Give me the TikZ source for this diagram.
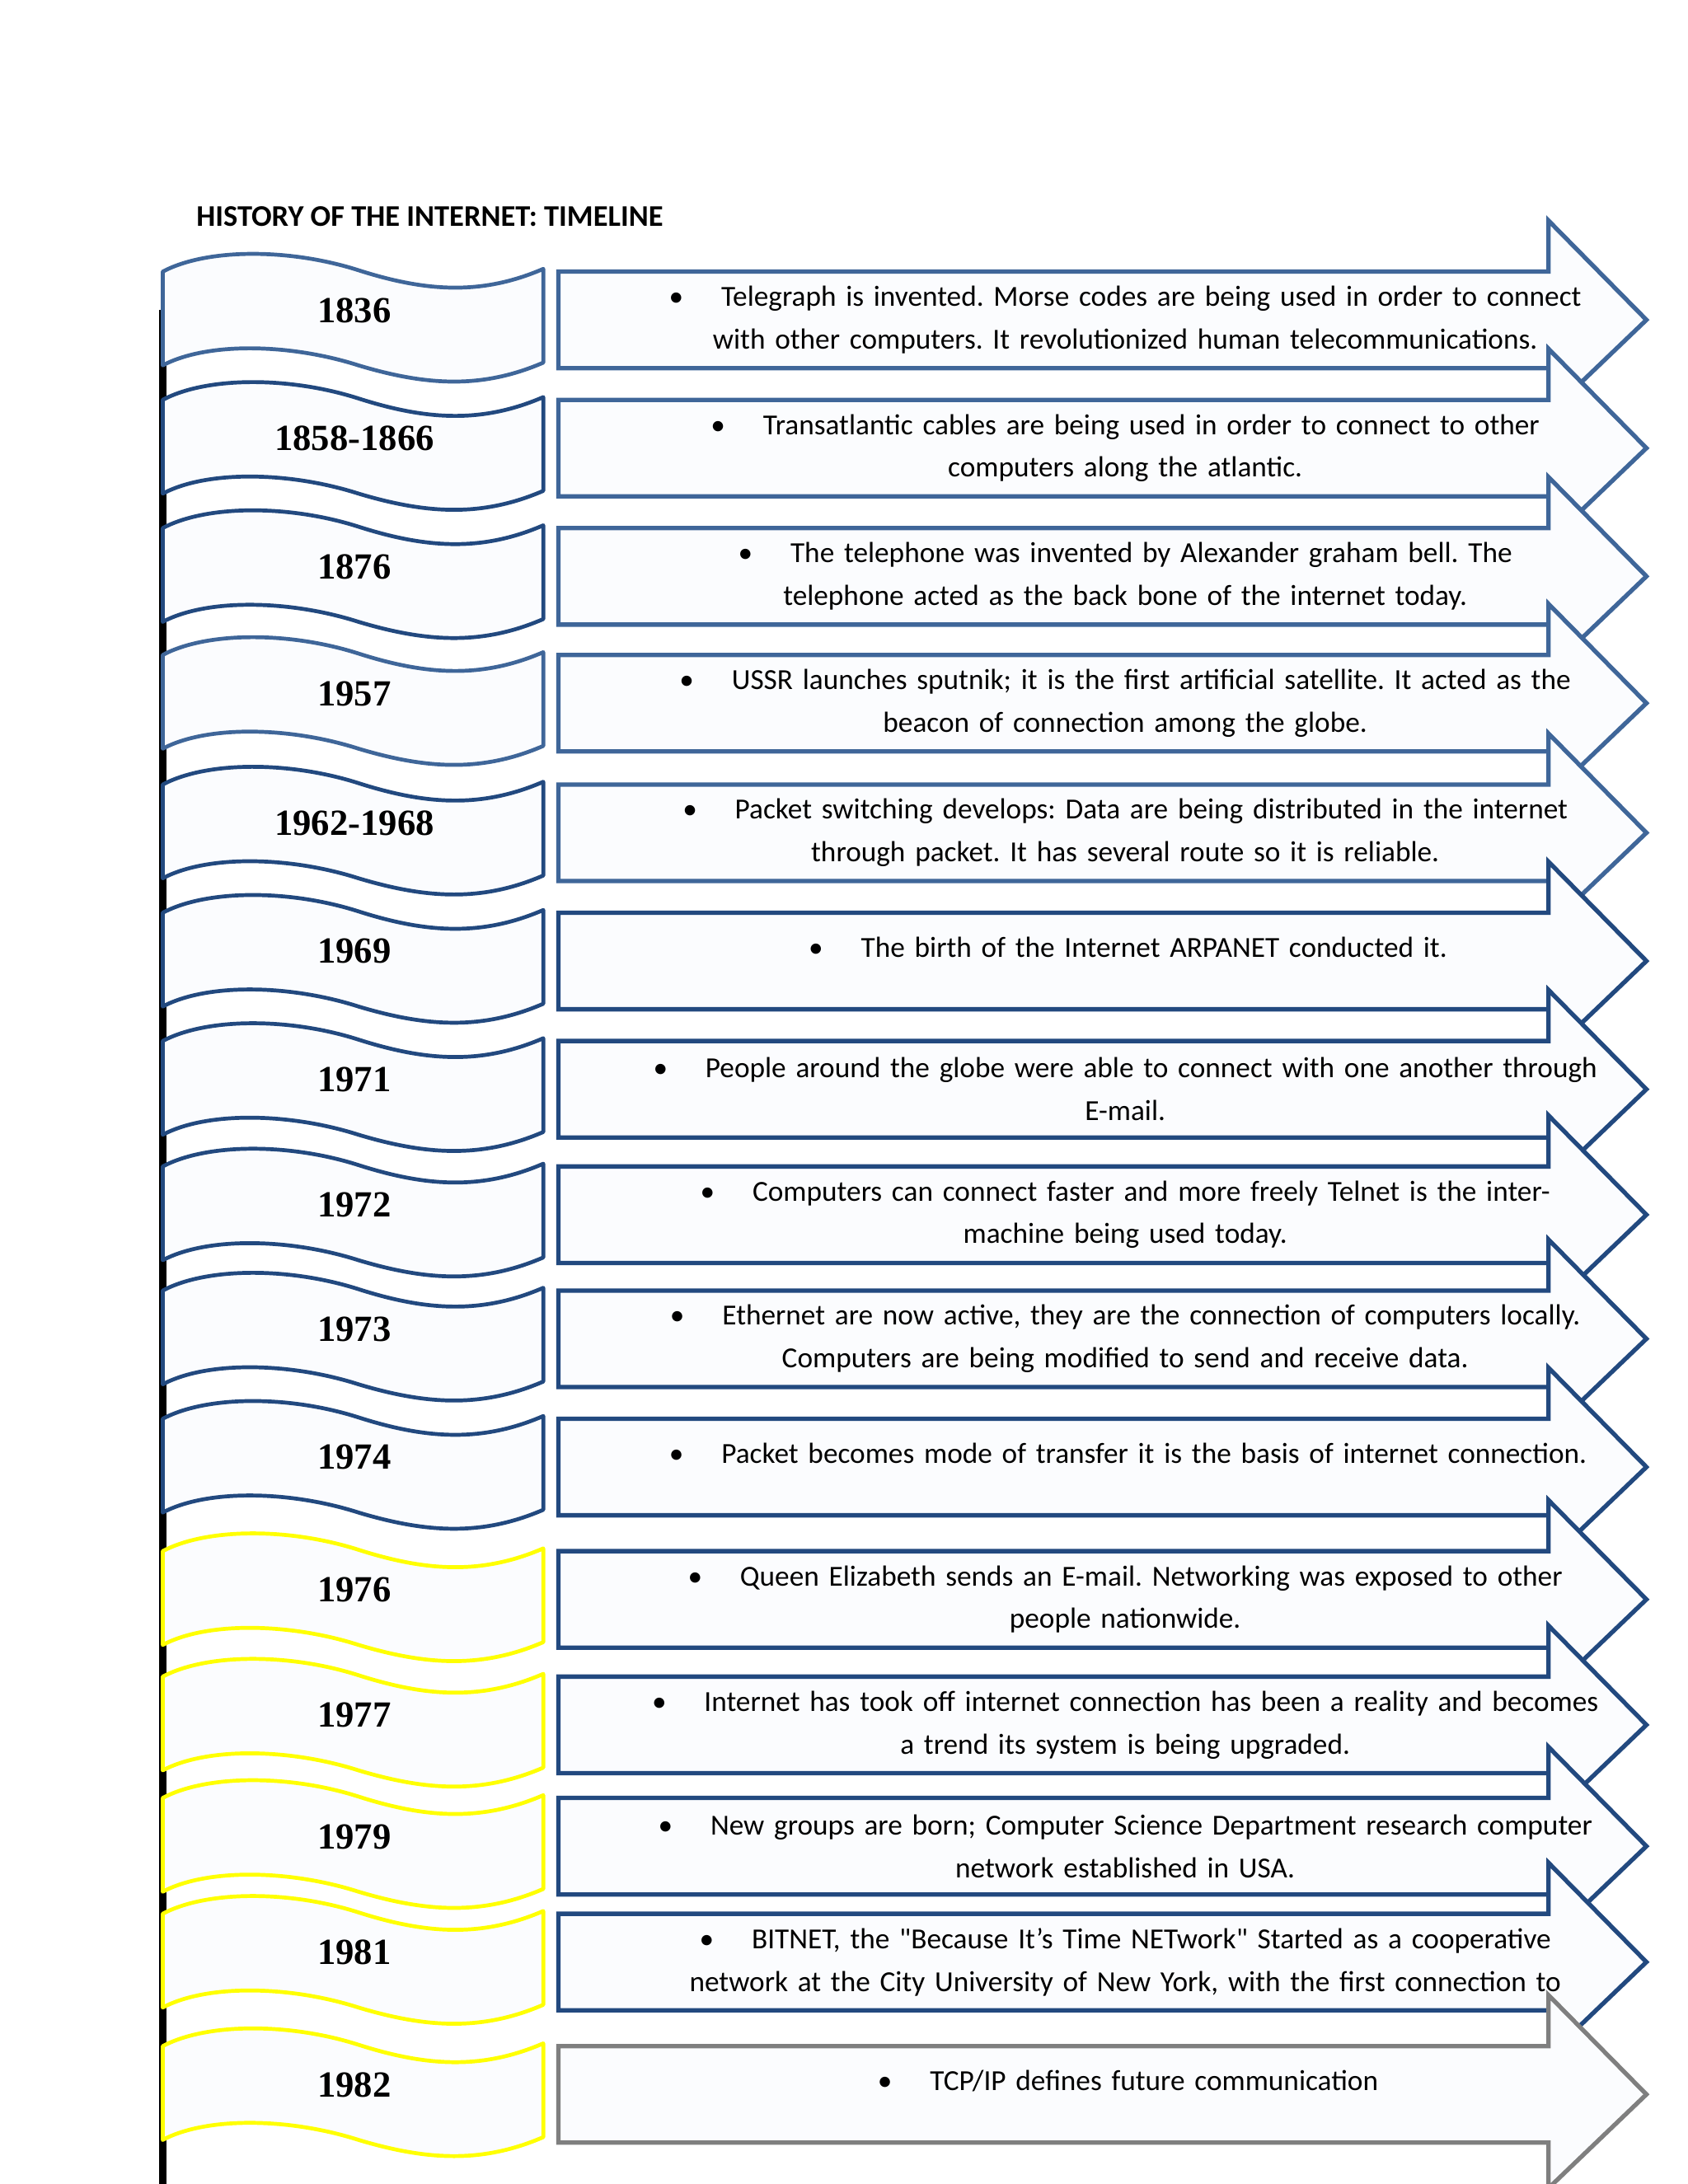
\documentclass[tikz,border=0pt]{standalone}
\usepackage{fontspec}
\setmainfont{Carlito}
\newfontfamily\yearfont{Liberation Serif}
\definecolor{blueA}{HTML}{3F6699}
\definecolor{blueB}{HTML}{22497F}
\definecolor{ylw}{HTML}{FFFF00}
\definecolor{gry}{HTML}{7F7F7F}
\definecolor{paper}{HTML}{FBFCFE}
\tikzset{
  banner/.style={line width=4pt, fill=paper, line join=round},
  arrowbox/.style={line width=4.5pt, fill=paper, line join=miter},
  yearlabel/.style={font=\yearfont\fontsize{38}{42}\selectfont\bfseries},
  desc/.style={font=\fontsize{30}{44}\selectfont\frenchspacing, align=center, text width=40cm},
}
\begin{document}
\begin{tikzpicture}[x=0.05cm,y=-0.05cm]
\useasboundingbox (0,0) rectangle (1224,1584);
\fill[white] (0,0) rectangle (1224,1584);
\node[anchor=west, font=\fontsize{31}{34}\selectfont\bfseries] (title) at (140,157) {HISTORY OF THE INTERNET: TIMELINE};
\coordinate (lt) at (118,225);
\coordinate (lb) at (118,1584);
\draw[line width=7pt] (lt) -- (lb);
\foreach \i/\c/\yr/\bc/\ac/\ta/\tb in {
 1/232/1836/blueA/blueA/{Telegraph is invented. Morse codes are being used in order to connect}/{with other computers. It revolutionized human telecommunications.},
 2/325/1858-1866/blueB/blueA/{Transatlantic cables are being used in order to connect to other}/{computers along the atlantic.},
 3/418/1876/blueB/blueA/{The telephone was invented by Alexander graham bell. The}/{telephone acted as the back bone of the internet today.},
 4/510/1957/blueA/blueA/{USSR launches sputnik; it is the first artificial satellite. It acted as the}/{beacon of connection among the globe.},
 5/604/1962-1968/blueB/blueA/{Packet switching develops: Data are being distributed in the internet}/{through packet. It has several route so it is reliable.},
 6/697/1969/blueB/blueB/{The birth of the Internet ARPANET conducted it.}/{},
 7/790/1971/blueB/blueB/{People around the globe were able to connect with one another through}/{E-mail.},
 8/881/1972/blueB/blueB/{Computers can connect faster and more freely Telnet is the inter-}/{machine being used today.},
 9/971/1973/blueB/blueB/{Ethernet are now active, they are the connection of computers locally.}/{Computers are being modified to send and receive data.},
 10/1064/1974/blueB/blueB/{Packet becomes mode of transfer it is the basis of internet connection.}/{},
 11/1160/1976/ylw/blueB/{Queen Elizabeth sends an E-mail. Networking was exposed to other}/{people nationwide.},
 12/1251/1977/ylw/blueB/{Internet has took off internet connection has been a reality and becomes}/{a trend its system is being upgraded.},
 13/1339/1979/ylw/blueB/{New groups are born; Computer Science Department research computer}/{network established in USA.},
 14/1423/1981/ylw/blueB/{BITNET, the \textquotedbl Because It's Time NETwork\textquotedbl{} Started as a cooperative}/{network at the City University of New York, with the first connection to},
 15/1519/1982/ylw/gry/{TCP/IP defines future communication}/{}}
{
  \draw[banner, draw=\bc] (118,\c-35) .. controls (150,\c-52) and (210,\c-52) .. (260,\c-36)
     .. controls (310,\c-20) and (350,\c-18) .. (394,\c-37) -- (394,\c+31)
     .. controls (350,\c+50) and (310,\c+48) .. (260,\c+33)
     .. controls (210,\c+17) and (150,\c+16) .. (118,\c+33) -- cycle;
  \node[yearlabel] (y\i) at (257,\c-7) {\yr};
  \draw[arrowbox, draw=\ac] (405,\c-35) -- (1123,\c-35) -- (1123,\c-72) -- (1194,\c) -- (1123,\c+68) -- (1123,\c+35) -- (405,\c+35) -- cycle;
  \ifnum\i=6 \node[desc] (t\i) at (818,\c-10) {\textbullet\hspace{1.3em}\ta};
  \else\ifnum\i=10 \node[desc] (t\i) at (818,\c-10) {\textbullet\hspace{1.3em}\ta};
  \else\ifnum\i=15 \node[desc] (t\i) at (818,\c-10) {\textbullet\hspace{1.3em}\ta};
  \else \node[desc] (t\i) at (816,\c) {\textbullet\hspace{1.3em}\ta\\\tb};
  \fi\fi\fi
}
\end{tikzpicture}
\end{document}
